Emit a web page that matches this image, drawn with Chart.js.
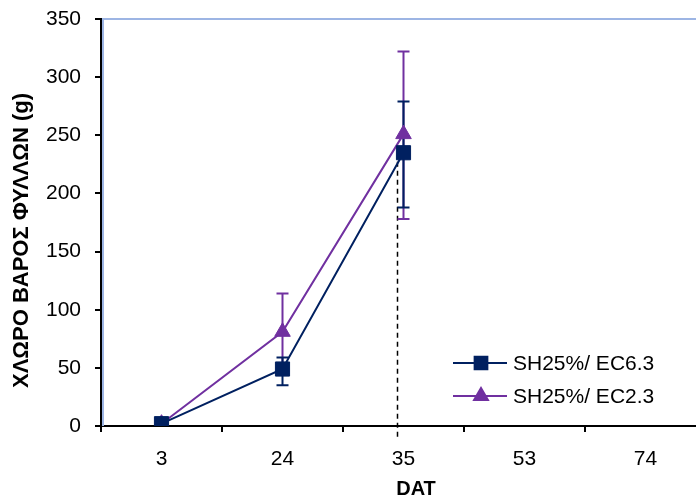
<!DOCTYPE html>
<html>
<head>
<meta charset="utf-8">
<script src="https://cdn.jsdelivr.net/npm/chart.js@4.4.0/dist/chart.umd.min.js"></script>
<style>
body { margin: 0; overflow: hidden; background: #fff; }
#wrap { width: 712px; height: 497px; }
</style>
</head>
<body>
<div id="wrap"><canvas id="graph1" width="712" height="497"></canvas></div>
<script>
// data
var days = ['3', '24', '35', '53', '74'];
var yTicks = [0, 50, 100, 150, 200, 250, 300, 350];

var ec63 = [2, 49, 235, null, null];
var ec63Low = [null, 35, 188, null, null];
var ec63High = [null, 59, 279, null, null];

var ec23 = [2, 81, 251, null, null];
var ec23Low = [null, 48, 178, null, null];
var ec23High = [null, 114, 322, null, null];

var xTitle = 'DAT';
var yTitle = 'ΧΛΩΡΟ ΒΑΡΟΣ ΦΥΛΛΩΝ (g)';

var navy = '#002060';
var purple = '#7030a0';
var fontName = 'Liberation Sans, Arial, sans-serif';

// frame: light blue top / left edge of the plot
const frame = {
    id: 'frame',
    beforeDatasetsDraw(chart) {
        const ctx = chart.ctx, ca = chart.chartArea;
        ctx.save();
        ctx.strokeStyle = '#9db5e4';
        ctx.lineWidth = 2;
        ctx.beginPath();
        ctx.moveTo(ca.left + 2, ca.bottom);
        ctx.lineTo(ca.left + 2, ca.top);
        ctx.lineTo(ca.right, ca.top);
        ctx.stroke();
        ctx.restore();
    }
};

// error bars + dashed drop line
const errorBars = {
    id: 'errorBars',
    beforeDatasetsDraw(chart) {
        const ctx = chart.ctx, y = chart.scales.y;
        // dashed line from the 35 DAT point down past the axis
        const p = chart.getDatasetMeta(0).data[2];
        ctx.save();
        ctx.strokeStyle = '#000';
        ctx.lineWidth = 1.5;
        ctx.setLineDash([5, 4]);
        ctx.beginPath();
        ctx.moveTo(p.x - 6, y.getPixelForValue(ec63[2]) + 9);
        ctx.lineTo(p.x - 6, y.bottom + 14);
        ctx.stroke();
        ctx.restore();

        [1, 0].forEach(function (i) {
            const ds = chart.data.datasets[i];
            const meta = chart.getDatasetMeta(i);
            ctx.save();
            ctx.strokeStyle = ds.borderColor;
            ctx.lineWidth = 2;
            ds.errLow.forEach(function (lo, j) {
                if (lo == null) return;
                const px = meta.data[j].x;
                const yl = y.getPixelForValue(lo);
                const yh = y.getPixelForValue(ds.errHigh[j]);
                ctx.beginPath();
                ctx.moveTo(px, yl); ctx.lineTo(px, yh);
                ctx.moveTo(px - 6, yl); ctx.lineTo(px + 6, yl);
                ctx.moveTo(px - 6, yh); ctx.lineTo(px + 6, yh);
                ctx.stroke();
            });
            ctx.restore();
        });
    }
};

// legend inside the plot (lower right) and the axis titles
const innerLegend = {
    id: 'innerLegend',
    afterDraw(chart) {
        const ctx = chart.ctx, ca = chart.chartArea;
        const lx = ca.left + 352, ly = ca.bottom - 63;
        chart.data.datasets.forEach(function (ds, i) {
            const yy = ly + i * 33;
            ctx.save();
            ctx.strokeStyle = ds.borderColor;
            ctx.lineWidth = 2;
            ctx.beginPath();
            ctx.moveTo(lx, yy); ctx.lineTo(lx + 54, yy);
            ctx.stroke();
            ctx.fillStyle = ds.backgroundColor;
            Chart.helpers.drawPoint(ctx, {
                pointStyle: ds.pointStyle, radius: ds.pointRadius - 1,
                borderWidth: 1, rotation: 0
            }, lx + 28, yy);
            ctx.fillStyle = '#000';
            ctx.font = '21px ' + fontName;
            ctx.textBaseline = 'middle';
            ctx.fillText(ds.label, lx + 60, yy + 1);
            ctx.restore();
        });

        ctx.save();
        ctx.fillStyle = '#000';
        ctx.textAlign = 'center';
        ctx.textBaseline = 'middle';
        ctx.font = 'bold 20px ' + fontName;
        ctx.fillText(xTitle, 416, ca.bottom + 63);
        ctx.translate(22, (ca.top + ca.bottom) / 2 + 18);
        ctx.rotate(-Math.PI / 2);
        ctx.font = 'bold 22px ' + fontName;
        ctx.fillText(yTitle, 0, 0);
        ctx.restore();
    }
};

let graph1 = document.getElementById('graph1').getContext('2d');
const myChart = new Chart(graph1, {
    type: 'line',
    data: {
        labels: days,
        datasets: [{
            label: 'SH25%/ EC6.3',
            data: ec63,
            errLow: ec63Low,
            errHigh: ec63High,
            borderColor: navy,
            backgroundColor: navy,
            borderWidth: 2,
            pointStyle: 'rect',
            pointRadius: 10,
            pointBorderWidth: 1
        }, {
            label: 'SH25%/ EC2.3',
            data: ec23,
            errLow: ec23Low,
            errHigh: ec23High,
            borderColor: purple,
            backgroundColor: purple,
            borderWidth: 2,
            pointStyle: 'triangle',
            pointRadius: 9,
            pointBorderWidth: 1
        }]
    },
    options: {
        responsive: false,
        animation: false,
        layout: { autoPadding: false, padding: { top: 19, right: 6, left: 0, bottom: 0 } },
        plugins: {
            legend: { display: false },
            tooltip: { enabled: false }
        },
        scales: {
            x: {
                offset: true,
                grid: { offset: true, drawOnChartArea: false, tickLength: 6, color: '#000', lineWidth: 2 },
                border: { color: '#000', width: 2 },
                ticks: { color: '#000', font: { family: fontName, size: 21 }, padding: 15, maxRotation: 0 },
                afterFit: function (s) { s.height = 71; }
            },
            y: {
                min: 0,
                max: 350,
                afterBuildTicks: function (s) { s.ticks = yTicks.map(function (v) { return { value: v }; }); },
                grid: { drawOnChartArea: false, tickLength: 6, color: '#000', lineWidth: 2 },
                border: { color: '#000', width: 2 },
                ticks: { color: '#000', font: { family: fontName, size: 21 }, padding: 14 },
                afterFit: function (s) { s.width = 101; s.paddingTop = 0; s.paddingBottom = 0; }
            }
        }
    },
    plugins: [frame, errorBars, innerLegend]
});
</script>
</body>
</html>
